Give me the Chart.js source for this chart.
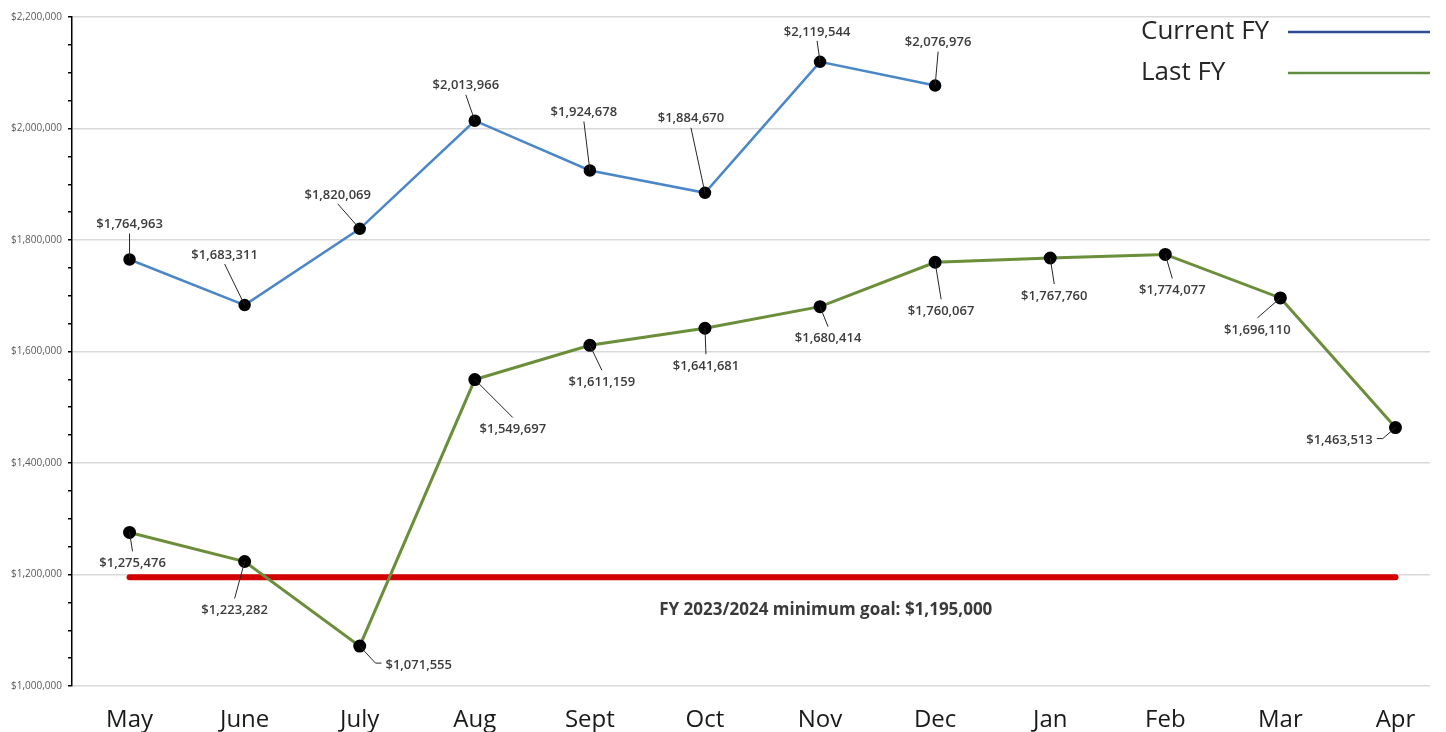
<!DOCTYPE html>
<html lang="en">
<head>
    <meta charset="UTF-8">
    <title>Monthly totals</title>
    <style>
        html, body {
            margin: 0;
            padding: 0;
            background: #ffffff;
        }
        .chart-box {
            width: 1446px;
            height: 732px;
        }
    </style>
    <script src="https://cdn.jsdelivr.net/npm/chart.js"></script>
</head>
<body>
<div class="chart-box">
    <canvas id="fyChart" width="1446" height="732"></canvas>
</div>

<script>
    const months = ['May', 'June', 'July', 'Aug', 'Sept', 'Oct', 'Nov', 'Dec', 'Jan', 'Feb', 'Mar', 'Apr'];
    const currentFY = [1764963, 1683311, 1820069, 2013966, 1924678, 1884670, 2119544, 2076976];
    const lastFY = [1275476, 1223282, 1071555, 1549697, 1611159, 1641681, 1680414, 1760067, 1767760, 1774077, 1696110, 1463513];
    const minimumGoal = 1195000;
    const goalText = 'FY 2023/2024 minimum goal: $1,195,000';
    const yMin = 1000000;
    const yMax = 2200000;
    const yStep = 50000;
    const yLabelEvery = 200000;

    // where each value label sits relative to its point (px)
    const currentLabelOffsets = [[0, -35], [-20, -50], [-22, -34], [-9, -35], [-6, -58], [-14, -74], [-3, -30], [3, -43]];
    const lastLabelOffsets = [[3, 31], [-10, 49], [59, 19], [38, 50], [12, 37], [1, 38], [8, 32], [6, 49], [4, 38], [7, 36], [-23, 32], [-56, 13]];

    const money = v => '$' + v.toLocaleString('en-US');
    const toPoints = arr => arr.map((v, i) => ({x: i, y: v}));

    // value labels with leader lines
    const valueLabels = {
        id: 'valueLabels',
        afterDatasetsDraw(chart) {
            const ctx = chart.ctx;
            ctx.save();
            ctx.font = '600 13px "Open Sans"';
            ctx.fillStyle = '#3c3c3c';
            ctx.textAlign = 'center';
            ctx.textBaseline = 'middle';
            chart.data.datasets.forEach((ds, di) => {
                if (!ds.labelOffsets) return;
                const meta = chart.getDatasetMeta(di);
                meta.data.forEach((pt, i) => {
                    const [dx, dy] = ds.labelOffsets[i];
                    const cx = pt.x + dx;
                    const cy = pt.y + dy;
                    const text = money(ds.data[i].y);
                    const w = ctx.measureText(text).width;
                    ctx.strokeStyle = '#262626';
                    ctx.lineWidth = 1;
                    ctx.beginPath();
                    ctx.moveTo(pt.x, pt.y);
                    if (Math.abs(dx) > w / 2 + 8) {
                        const s = dx > 0 ? -1 : 1;
                        const edgeX = cx + s * (w / 2 + 4);
                        ctx.lineTo(edgeX + s * 6, cy - 2);
                        ctx.lineTo(edgeX, cy - 2);
                    } else {
                        ctx.lineTo(cx, dy < 0 ? cy + 9 : cy - 12);
                    }
                    ctx.stroke();
                    ctx.fillText(text, cx, cy);
                });
            });

            // goal caption under the red line
            const x = chart.scales.x;
            const y = chart.scales.y;
            ctx.font = 'bold 17px "Open Sans"';
            ctx.fillStyle = '#3a3a3a';
            ctx.fillText(goalText, x.getPixelForValue(6.05), y.getPixelForValue(minimumGoal) + 33);
            ctx.restore();
        }
    };

    // legend: text on the left, line sample on the right
    const lineLegend = {
        id: 'lineLegend',
        afterDraw(chart) {
            const ctx = chart.ctx;
            const right = chart.chartArea.right;
            const items = [
                {text: 'Current FY', color: '#2f4b94', y: 32},
                {text: 'Last FY', color: '#5f8f3e', y: 73}
            ];
            ctx.save();
            ctx.font = '26px "Open Sans"';
            ctx.textBaseline = 'middle';
            ctx.textAlign = 'left';
            items.forEach(it => {
                ctx.fillStyle = '#262626';
                ctx.fillText(it.text, right - 289, it.y);
                ctx.strokeStyle = it.color;
                ctx.lineWidth = 2.5;
                ctx.beginPath();
                ctx.moveTo(right - 142, it.y);
                ctx.lineTo(right, it.y);
                ctx.stroke();
            });
            ctx.restore();
        }
    };

    new Chart(document.getElementById('fyChart'), {
        type: 'line',
        data: {
            datasets: [
                {
                    label: 'Current FY',
                    data: toPoints(currentFY),
                    borderColor: '#4a86c8',
                    borderWidth: 2.5,
                    pointBackgroundColor: '#000000',
                    pointBorderColor: '#000000',
                    pointRadius: 5,
                    labelOffsets: currentLabelOffsets,
                    order: 1
                },
                {
                    label: 'Last FY',
                    data: toPoints(lastFY),
                    borderColor: '#6b8e3a',
                    borderWidth: 3,
                    pointBackgroundColor: '#000000',
                    pointBorderColor: '#000000',
                    pointRadius: 5,
                    labelOffsets: lastLabelOffsets,
                    order: 2
                },
                {
                    label: 'Minimum goal',
                    data: toPoints(months.map(() => minimumGoal)),
                    borderColor: '#d20000',
                    borderWidth: 6,
                    borderCapStyle: 'round',
                    pointRadius: 0,
                    order: 3
                }
            ]
        },
        options: {
            responsive: false,
            animation: false,
            layout: {
                padding: {top: 17, right: 16, left: 0, bottom: 0}
            },
            plugins: {
                legend: {display: false},
                tooltip: {enabled: false}
            },
            scales: {
                x: {
                    type: 'linear',
                    min: -0.5,
                    max: 11.3,
                    afterBuildTicks: s => {
                        s.ticks = months.map((m, i) => ({value: i}));
                    },
                    afterFit: s => {
                        s.height = 46;
                    },
                    grid: {display: false},
                    border: {display: false},
                    ticks: {
                        callback: v => months[v],
                        autoSkip: false,
                        maxRotation: 0,
                        padding: 12,
                        color: '#1a1a1a',
                        font: {family: 'Open Sans', size: 24}
                    }
                },
                y: {
                    min: yMin,
                    max: yMax,
                    afterFit: s => {
                        s.width = 72;
                    },
                    grid: {
                        color: c => (c.tick.value % yLabelEvery === 0 ? '#d9d9d9' : 'rgba(0,0,0,0)'),
                        tickColor: '#000000',
                        tickLength: 4,
                        lineWidth: 1.5
                    },
                    border: {display: true, color: '#000000', width: 1.5},
                    ticks: {
                        stepSize: yStep,
                        autoSkip: false,
                        padding: 6,
                        color: '#595959',
                        font: {family: 'Open Sans', size: 10},
                        callback: v => (v % yLabelEvery === 0 ? money(v) : '')
                    }
                }
            }
        },
        plugins: [valueLabels, lineLegend]
    });
</script>
</body>
</html>
